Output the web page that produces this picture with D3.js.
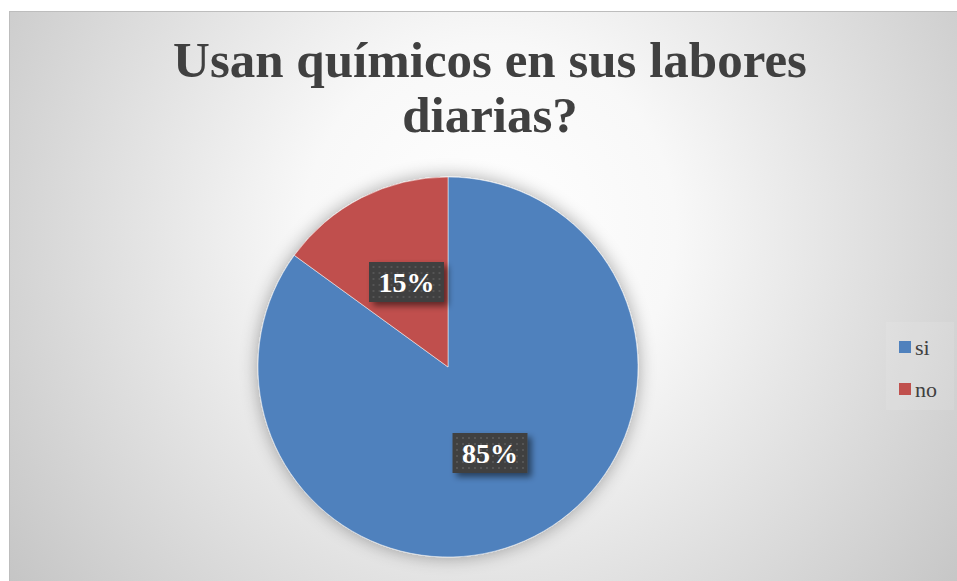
<html lang="es">
<head>
  <meta charset="UTF-8">
  <title>Usan químicos</title>
  <style>
    body { margin: 0; background: #fff; }
  </style>
</head>
<body>
  <script src="https://d3js.org/d3.v7.min.js"></script>
  <div id="chart"></div>
  <script>
    let categories = ["si", "no"];
    let values = [85, 15];
    let labels = ["85%", "15%"];
    let colors = ["#4F81BD", "#C0504D"];
    let titleLines = ["Usan químicos en sus labores", "diarias?"];

    let width = 957, height = 581;
    let cx = 448, cy = 367, radius = 190;

    function translate(x, y) { return 'translate(' + x + ',' + y + ')'; }

    let svg = d3.select("#chart").append("svg")
      .attr("width", width)
      .attr("height", height);

    let defs = svg.append("defs");

    let grad = defs.append("radialGradient")
      .attr("id", "bg")
      .attr("gradientUnits", "userSpaceOnUse")
      .attr("cx", 490).attr("cy", 230).attr("r", 620);
    grad.append("stop").attr("offset", "0%").attr("stop-color", "#ffffff");
    grad.append("stop").attr("offset", "30%").attr("stop-color", "#f8f8f8");
    grad.append("stop").attr("offset", "100%").attr("stop-color", "#c2c2c2");

    let shadow = defs.append("filter").attr("id", "pieShadow")
      .attr("x", "-20%").attr("y", "-20%").attr("width", "140%").attr("height", "140%");
    shadow.append("feGaussianBlur").attr("in", "SourceAlpha").attr("stdDeviation", 9);
    shadow.append("feComponentTransfer").append("feFuncA").attr("type", "linear").attr("slope", 0.35);
    let merge = shadow.append("feMerge");
    merge.append("feMergeNode");
    merge.append("feMergeNode").attr("in", "SourceGraphic");

    let boxShadow = defs.append("filter").attr("id", "boxShadow")
      .attr("x", "-20%").attr("y", "-20%").attr("width", "150%").attr("height", "160%");
    boxShadow.append("feGaussianBlur").attr("in", "SourceAlpha").attr("stdDeviation", 3);
    boxShadow.append("feOffset").attr("dx", 4).attr("dy", 4).attr("result", "off");
    boxShadow.append("feComponentTransfer").append("feFuncA").attr("type", "linear").attr("slope", 0.5);
    let merge2 = boxShadow.append("feMerge");
    merge2.append("feMergeNode");
    merge2.append("feMergeNode").attr("in", "SourceGraphic");

    let dots = defs.append("pattern").attr("id", "dots")
      .attr("patternUnits", "userSpaceOnUse")
      .attr("width", 6).attr("height", 6);
    dots.append("rect").attr("width", 6).attr("height", 6).attr("fill", "#404040");
    dots.append("rect").attr("x", 2).attr("y", 2).attr("width", 2).attr("height", 2).attr("fill", "#555555");

    // chart area
    svg.append("rect")
      .attr("x", 9.5).attr("y", 11.5)
      .attr("width", width).attr("height", height)
      .attr("fill", "url(#bg)")
      .attr("stroke", "#bdbdbd")
      .attr("stroke-width", 1);

    // title
    let title = svg.append("text")
      .attr("text-anchor", "middle")
      .style("font-family", "'Liberation Serif', 'DejaVu Serif', serif")
      .style("font-weight", "bold")
      .style("font-size", "51px")
      .attr("fill", "#404040");
    titleLines.forEach((t, i) => {
      title.append("tspan")
        .attr("x", 490)
        .attr("y", 77 + i * 55)
        .text(t);
    });

    // pie
    let pie = d3.pie().sort(null).value(d => d);
    let arc = d3.arc().innerRadius(0).outerRadius(radius);
    let arcs = pie(values);

    let g = svg.append("g").attr("transform", translate(cx, cy));
    g.append("g")
      .attr("filter", "url(#pieShadow)")
      .selectAll("path")
      .data(arcs)
      .enter().append("path")
        .attr("d", arc)
        .attr("fill", (d, i) => colors[i])
        .attr("stroke", "#ffffff")
        .attr("stroke-width", 0.5);

    // data labels
    let labelPos = [[42, 86], [-41.5, -85]];
    arcs.forEach((d, i) => {
      let lg = g.append("g").attr("transform", translate(labelPos[i][0], labelPos[i][1]));
      lg.append("rect")
        .attr("x", -37.5).attr("y", -20)
        .attr("width", 75).attr("height", 40)
        .attr("fill", "url(#dots)")
        .attr("filter", "url(#boxShadow)");
      lg.append("text")
        .attr("text-anchor", "middle")
        .attr("dy", "0.35em")
        .style("font-family", "'Liberation Serif', 'DejaVu Serif', serif")
        .style("font-weight", "bold")
        .style("font-size", "28px")
        .attr("fill", "#ffffff")
        .text(labels[i]);
    });

    // legend
    let legend = svg.append("g").attr("transform", translate(886, 322));
    legend.append("rect")
      .attr("width", 68).attr("height", 88)
      .attr("fill", "#ffffff").attr("fill-opacity", 0.1);
    categories.forEach((c, i) => {
      let row = legend.append("g").attr("transform", translate(13, 25 + i * 42));
      row.append("rect")
        .attr("x", 0).attr("y", -6)
        .attr("width", 12).attr("height", 12)
        .attr("fill", colors[i]);
      row.append("text")
        .attr("x", 16).attr("dy", "0.35em")
        .style("font-family", "'Liberation Serif', 'DejaVu Serif', serif")
        .style("font-size", "22px")
        .attr("fill", "#404040")
        .text(c);
    });
  </script>
</body>
</html>
